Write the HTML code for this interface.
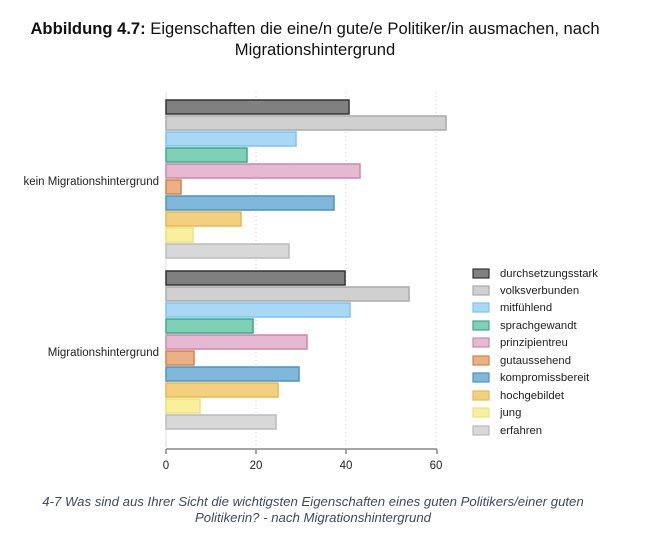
<!DOCTYPE html>
<html><head><meta charset="utf-8"><style>
body{margin:0;background:#fff;width:647px;height:530px;overflow:hidden}
</style></head><body>
<svg width="647" height="530" xmlns="http://www.w3.org/2000/svg" font-family="Liberation Sans, sans-serif">
<text x="315" y="34" text-anchor="middle" font-size="16.6" fill="#111"><tspan font-weight="bold">Abbildung 4.7:</tspan> Eigenschaften die eine/n gute/e Politiker/in ausmachen, nach</text>
<text x="315" y="55" text-anchor="middle" font-size="16.6" fill="#111">Migrationshintergrund</text>
<g stroke="#ccc" stroke-dasharray="1,3" stroke-width="1">
<line x1="256" y1="92" x2="256" y2="447"/><line x1="346" y1="92" x2="346" y2="447"/><line x1="436" y1="92" x2="436" y2="447"/>
</g>
<line x1="166" y1="92" x2="166" y2="447" stroke="#ddd"/>
<g stroke-width="1.5">
<rect x="166" y="100" width="183" height="14" fill="#808080" stroke="#333"/>
<rect x="166" y="116" width="280" height="14" fill="#d0d0d0" stroke="#aaa"/>
<rect x="166" y="132" width="130" height="14" fill="#a8d8f4" stroke="#7cc4ee"/>
<rect x="166" y="148" width="81" height="14" fill="#80d0b8" stroke="#3aaa88"/>
<rect x="166" y="164" width="194" height="14" fill="#e6b9d2" stroke="#cc88aa"/>
<rect x="166" y="180" width="15" height="14" fill="#eab086" stroke="#d8804c"/>
<rect x="166" y="196" width="168" height="14" fill="#80b8dc" stroke="#4a94c4"/>
<rect x="166" y="212" width="75" height="14" fill="#f2d080" stroke="#eab84c"/>
<rect x="166" y="228" width="27" height="14" fill="#f8f09c" stroke="#eee07c"/>
<rect x="166" y="244" width="123" height="14" fill="#d8d8d8" stroke="#bbb"/>
<rect x="166" y="271" width="179" height="14" fill="#808080" stroke="#333"/>
<rect x="166" y="287" width="243" height="14" fill="#d0d0d0" stroke="#aaa"/>
<rect x="166" y="303" width="184" height="14" fill="#a8d8f4" stroke="#7cc4ee"/>
<rect x="166" y="319" width="87" height="14" fill="#80d0b8" stroke="#3aaa88"/>
<rect x="166" y="335" width="141" height="14" fill="#e6b9d2" stroke="#cc88aa"/>
<rect x="166" y="351" width="28" height="14" fill="#eab086" stroke="#d8804c"/>
<rect x="166" y="367" width="133" height="14" fill="#80b8dc" stroke="#4a94c4"/>
<rect x="166" y="383" width="112" height="14" fill="#f2d080" stroke="#eab84c"/>
<rect x="166" y="399" width="34" height="14" fill="#f8f09c" stroke="#eee07c"/>
<rect x="166" y="415" width="110" height="14" fill="#d8d8d8" stroke="#bbb"/>
</g>
<text x="159" y="185" text-anchor="end" font-size="11.5" fill="#222">kein Migrationshintergrund</text>
<text x="159" y="356" text-anchor="end" font-size="11.5" fill="#222">Migrationshintergrund</text>
<g stroke="#888" stroke-width="1.5">
<line x1="166" y1="449" x2="437" y2="449"/>
<line x1="166" y1="449" x2="166" y2="454"/><line x1="256" y1="449" x2="256" y2="454"/><line x1="346" y1="449" x2="346" y2="454"/><line x1="437" y1="449" x2="437" y2="454"/>
</g>
<g font-size="11.5" fill="#222" text-anchor="middle">
<text x="166" y="469">0</text><text x="256" y="469">20</text><text x="346" y="469">40</text><text x="436" y="469">60</text>
</g>
<g stroke-width="1.2" font-size="11.3" fill="#222">
<rect x="473" y="269" width="16" height="9" fill="#808080" stroke="#333"/><text x="500" y="277">durchsetzungsstark</text>
<rect x="473" y="286" width="16" height="9" fill="#d0d0d0" stroke="#aaa"/><text x="500" y="294">volksverbunden</text>
<rect x="473" y="303" width="16" height="9" fill="#a8d8f4" stroke="#7cc4ee"/><text x="500" y="311">mitfühlend</text>
<rect x="473" y="321" width="16" height="9" fill="#80d0b8" stroke="#3aaa88"/><text x="500" y="329">sprachgewandt</text>
<rect x="473" y="338" width="16" height="9" fill="#e6b9d2" stroke="#cc88aa"/><text x="500" y="346">prinzipientreu</text>
<rect x="473" y="356" width="16" height="9" fill="#eab086" stroke="#d8804c"/><text x="500" y="364">gutaussehend</text>
<rect x="473" y="373" width="16" height="9" fill="#80b8dc" stroke="#4a94c4"/><text x="500" y="381">kompromissbereit</text>
<rect x="473" y="391" width="16" height="9" fill="#f2d080" stroke="#eab84c"/><text x="500" y="399">hochgebildet</text>
<rect x="473" y="408" width="16" height="9" fill="#f8f09c" stroke="#eee07c"/><text x="500" y="416">jung</text>
<rect x="473" y="426" width="16" height="9" fill="#d8d8d8" stroke="#bbb"/><text x="500" y="434">erfahren</text>
</g>
<text x="313" y="506" text-anchor="middle" font-size="13.2" font-style="italic" fill="#3a4a66">4-7 Was sind aus Ihrer Sicht die wichtigsten Eigenschaften eines guten Politikers/einer guten</text>
<text x="313" y="522" text-anchor="middle" font-size="13.2" font-style="italic" fill="#3a4a66">Politikerin? - nach Migrationshintergrund</text>
</svg>
</body></html>
